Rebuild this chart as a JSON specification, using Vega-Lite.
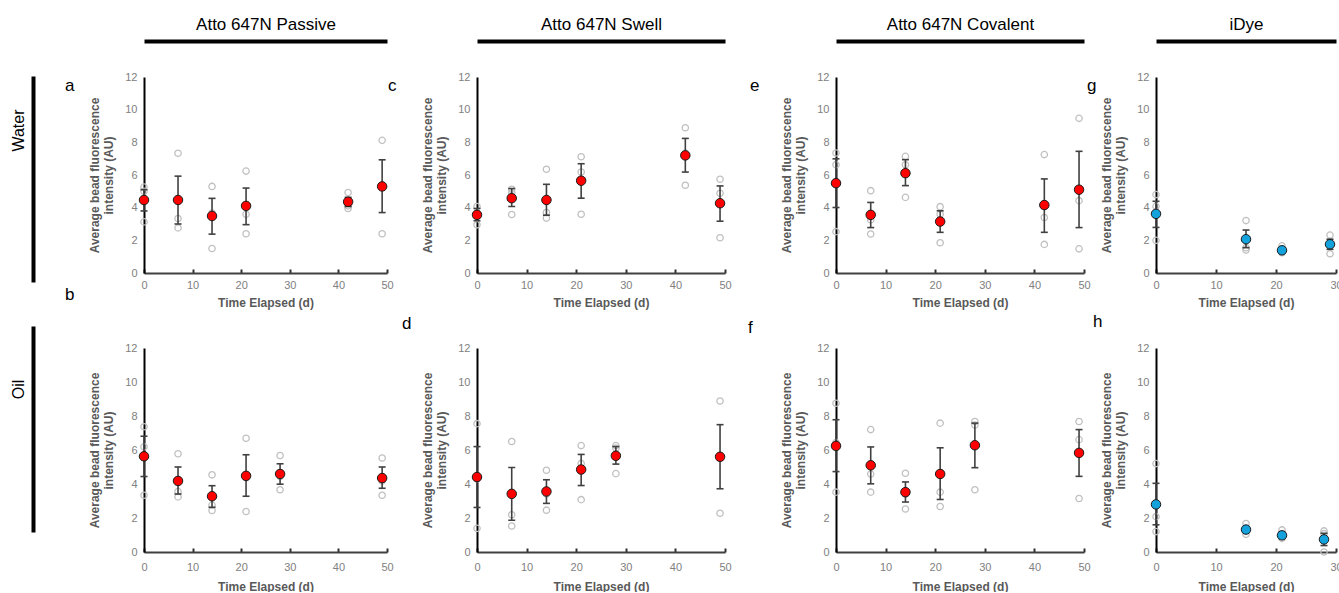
{
  "$schema": "https://vega.github.io/schema/vega-lite/v6.json",
  "padding": {"left": 10, "top": 15, "right": 0, "bottom": 0},
  "background": "white",
  "datasets": {
    "means": [
      {"p": "a", "day": 0, "mean": 4.47, "lo": 3.8, "hi": 5.1},
      {"p": "a", "day": 7, "mean": 4.47, "lo": 3.0, "hi": 5.93},
      {"p": "a", "day": 14, "mean": 3.49, "lo": 2.38, "hi": 4.57},
      {"p": "a", "day": 21, "mean": 4.11, "lo": 2.96, "hi": 5.2},
      {"p": "a", "day": 42, "mean": 4.36, "lo": 4.07, "hi": 4.63},
      {"p": "a", "day": 49, "mean": 5.3, "lo": 3.7, "hi": 6.93},
      {"p": "c", "day": 0, "mean": 3.56, "lo": 3.2, "hi": 3.95},
      {"p": "c", "day": 7, "mean": 4.58, "lo": 4.07, "hi": 5.17},
      {"p": "c", "day": 14, "mean": 4.47, "lo": 3.54, "hi": 5.43},
      {"p": "c", "day": 21, "mean": 5.65, "lo": 4.58, "hi": 6.69},
      {"p": "c", "day": 42, "mean": 7.2, "lo": 6.18, "hi": 8.24},
      {"p": "c", "day": 49, "mean": 4.27, "lo": 3.17, "hi": 5.33},
      {"p": "e", "day": 0, "mean": 5.5, "lo": 4.01, "hi": 6.99},
      {"p": "e", "day": 7, "mean": 3.56, "lo": 2.78, "hi": 4.32},
      {"p": "e", "day": 14, "mean": 6.11, "lo": 5.35, "hi": 6.94},
      {"p": "e", "day": 21, "mean": 3.15, "lo": 2.49, "hi": 3.81},
      {"p": "e", "day": 42, "mean": 4.16, "lo": 2.49, "hi": 5.76},
      {"p": "e", "day": 49, "mean": 5.1, "lo": 2.78, "hi": 7.45},
      {"p": "g", "day": 0, "mean": 3.62, "lo": 2.79, "hi": 4.39},
      {"p": "g", "day": 15, "mean": 2.07, "lo": 1.55, "hi": 2.63},
      {"p": "g", "day": 21, "mean": 1.39, "lo": 1.24, "hi": 1.55},
      {"p": "g", "day": 29, "mean": 1.76, "lo": 1.45, "hi": 2.07},
      {"p": "b", "day": 0, "mean": 5.63, "lo": 4.44, "hi": 6.81},
      {"p": "b", "day": 7, "mean": 4.18, "lo": 3.41, "hi": 5.0},
      {"p": "b", "day": 14, "mean": 3.28, "lo": 2.63, "hi": 3.9},
      {"p": "b", "day": 21, "mean": 4.48, "lo": 3.28, "hi": 5.72},
      {"p": "b", "day": 28, "mean": 4.59, "lo": 3.99, "hi": 5.19},
      {"p": "b", "day": 49, "mean": 4.35, "lo": 3.75, "hi": 5.0},
      {"p": "d", "day": 0, "mean": 4.41, "lo": 2.62, "hi": 6.2},
      {"p": "d", "day": 7, "mean": 3.42, "lo": 1.87, "hi": 4.97},
      {"p": "d", "day": 14, "mean": 3.56, "lo": 2.86, "hi": 4.25},
      {"p": "d", "day": 21, "mean": 4.85, "lo": 3.91, "hi": 5.74},
      {"p": "d", "day": 28, "mean": 5.66, "lo": 5.17, "hi": 6.2},
      {"p": "d", "day": 49, "mean": 5.6, "lo": 3.72, "hi": 7.49},
      {"p": "f", "day": 0, "mean": 6.24, "lo": 4.73, "hi": 7.78},
      {"p": "f", "day": 7, "mean": 5.1, "lo": 4.01, "hi": 6.18},
      {"p": "f", "day": 14, "mean": 3.52, "lo": 2.94, "hi": 4.12},
      {"p": "f", "day": 21, "mean": 4.59, "lo": 3.09, "hi": 6.13},
      {"p": "f", "day": 28, "mean": 6.28, "lo": 4.96, "hi": 7.58},
      {"p": "f", "day": 49, "mean": 5.83, "lo": 4.45, "hi": 7.2},
      {"p": "h", "day": 0, "mean": 2.8, "lo": 1.6, "hi": 4.04},
      {"p": "h", "day": 15, "mean": 1.32, "lo": 1.16, "hi": 1.48},
      {"p": "h", "day": 21, "mean": 0.98, "lo": 0.8, "hi": 1.18},
      {"p": "h", "day": 28, "mean": 0.74, "lo": 0.38, "hi": 1.1}
    ],
    "reps": [
      {"p": "a", "day": 0, "v": 5.26}, {"p": "a", "day": 0, "v": 5.0}, {"p": "a", "day": 0, "v": 3.13},
      {"p": "a", "day": 7, "v": 7.33}, {"p": "a", "day": 7, "v": 3.34}, {"p": "a", "day": 7, "v": 2.76},
      {"p": "a", "day": 14, "v": 5.3}, {"p": "a", "day": 14, "v": 3.67}, {"p": "a", "day": 14, "v": 1.5},
      {"p": "a", "day": 21, "v": 6.24}, {"p": "a", "day": 21, "v": 3.59}, {"p": "a", "day": 21, "v": 2.4},
      {"p": "a", "day": 42, "v": 4.93}, {"p": "a", "day": 42, "v": 4.11}, {"p": "a", "day": 42, "v": 3.95},
      {"p": "a", "day": 49, "v": 8.12}, {"p": "a", "day": 49, "v": 5.38}, {"p": "a", "day": 49, "v": 2.4},
      {"p": "c", "day": 0, "v": 4.07}, {"p": "c", "day": 0, "v": 3.66}, {"p": "c", "day": 0, "v": 2.95},
      {"p": "c", "day": 7, "v": 5.13}, {"p": "c", "day": 7, "v": 4.92}, {"p": "c", "day": 7, "v": 3.58},
      {"p": "c", "day": 14, "v": 6.35}, {"p": "c", "day": 14, "v": 3.7}, {"p": "c", "day": 14, "v": 3.36},
      {"p": "c", "day": 21, "v": 7.12}, {"p": "c", "day": 21, "v": 6.18}, {"p": "c", "day": 21, "v": 3.6},
      {"p": "c", "day": 42, "v": 8.89}, {"p": "c", "day": 42, "v": 7.34}, {"p": "c", "day": 42, "v": 5.37},
      {"p": "c", "day": 49, "v": 5.74}, {"p": "c", "day": 49, "v": 4.88}, {"p": "c", "day": 49, "v": 2.16},
      {"p": "e", "day": 0, "v": 7.35}, {"p": "e", "day": 0, "v": 6.63}, {"p": "e", "day": 0, "v": 2.53},
      {"p": "e", "day": 7, "v": 5.04}, {"p": "e", "day": 7, "v": 3.25}, {"p": "e", "day": 7, "v": 2.39},
      {"p": "e", "day": 14, "v": 7.14}, {"p": "e", "day": 14, "v": 6.63}, {"p": "e", "day": 14, "v": 4.63},
      {"p": "e", "day": 21, "v": 4.06}, {"p": "e", "day": 21, "v": 3.6}, {"p": "e", "day": 21, "v": 1.85},
      {"p": "e", "day": 42, "v": 7.25}, {"p": "e", "day": 42, "v": 3.4}, {"p": "e", "day": 42, "v": 1.75},
      {"p": "e", "day": 49, "v": 9.47}, {"p": "e", "day": 49, "v": 4.43}, {"p": "e", "day": 49, "v": 1.48},
      {"p": "g", "day": 0, "v": 4.8}, {"p": "g", "day": 0, "v": 4.08}, {"p": "g", "day": 0, "v": 2.0},
      {"p": "g", "day": 15, "v": 3.21}, {"p": "g", "day": 15, "v": 1.55}, {"p": "g", "day": 15, "v": 1.41},
      {"p": "g", "day": 21, "v": 1.66}, {"p": "g", "day": 21, "v": 1.35}, {"p": "g", "day": 21, "v": 1.24},
      {"p": "g", "day": 29, "v": 2.32}, {"p": "g", "day": 29, "v": 1.86}, {"p": "g", "day": 29, "v": 1.18},
      {"p": "b", "day": 0, "v": 7.37}, {"p": "b", "day": 0, "v": 6.19}, {"p": "b", "day": 0, "v": 3.34},
      {"p": "b", "day": 7, "v": 5.78}, {"p": "b", "day": 7, "v": 3.56}, {"p": "b", "day": 7, "v": 3.24},
      {"p": "b", "day": 14, "v": 4.54}, {"p": "b", "day": 14, "v": 2.76}, {"p": "b", "day": 14, "v": 2.44},
      {"p": "b", "day": 21, "v": 6.69}, {"p": "b", "day": 21, "v": 4.37}, {"p": "b", "day": 21, "v": 2.38},
      {"p": "b", "day": 28, "v": 5.68}, {"p": "b", "day": 28, "v": 4.44}, {"p": "b", "day": 28, "v": 3.66},
      {"p": "b", "day": 49, "v": 5.53}, {"p": "b", "day": 49, "v": 4.18}, {"p": "b", "day": 49, "v": 3.34},
      {"p": "d", "day": 0, "v": 7.55}, {"p": "d", "day": 0, "v": 4.29}, {"p": "d", "day": 0, "v": 1.39},
      {"p": "d", "day": 7, "v": 6.5}, {"p": "d", "day": 7, "v": 2.19}, {"p": "d", "day": 7, "v": 1.53},
      {"p": "d", "day": 14, "v": 4.81}, {"p": "d", "day": 14, "v": 3.41}, {"p": "d", "day": 14, "v": 2.46},
      {"p": "d", "day": 21, "v": 6.26}, {"p": "d", "day": 21, "v": 5.21}, {"p": "d", "day": 21, "v": 3.08},
      {"p": "d", "day": 28, "v": 6.26}, {"p": "d", "day": 28, "v": 6.11}, {"p": "d", "day": 28, "v": 4.61},
      {"p": "d", "day": 49, "v": 8.88}, {"p": "d", "day": 49, "v": 5.64}, {"p": "d", "day": 49, "v": 2.28},
      {"p": "f", "day": 0, "v": 8.75}, {"p": "f", "day": 0, "v": 6.44}, {"p": "f", "day": 0, "v": 3.52},
      {"p": "f", "day": 7, "v": 7.2}, {"p": "f", "day": 7, "v": 4.59}, {"p": "f", "day": 7, "v": 3.52},
      {"p": "f", "day": 14, "v": 4.63}, {"p": "f", "day": 14, "v": 3.4}, {"p": "f", "day": 14, "v": 2.53},
      {"p": "f", "day": 21, "v": 7.58}, {"p": "f", "day": 21, "v": 3.52}, {"p": "f", "day": 21, "v": 2.68},
      {"p": "f", "day": 28, "v": 7.68}, {"p": "f", "day": 28, "v": 7.47}, {"p": "f", "day": 28, "v": 3.66},
      {"p": "f", "day": 49, "v": 7.68}, {"p": "f", "day": 49, "v": 6.61}, {"p": "f", "day": 49, "v": 3.15},
      {"p": "h", "day": 0, "v": 5.2}, {"p": "h", "day": 0, "v": 2.08}, {"p": "h", "day": 0, "v": 1.2},
      {"p": "h", "day": 15, "v": 1.68}, {"p": "h", "day": 15, "v": 1.24}, {"p": "h", "day": 15, "v": 1.04},
      {"p": "h", "day": 21, "v": 1.3}, {"p": "h", "day": 21, "v": 0.94}, {"p": "h", "day": 21, "v": 0.8},
      {"p": "h", "day": 28, "v": 1.24}, {"p": "h", "day": 28, "v": 1.08}, {"p": "h", "day": 28, "v": 0.0}
    ]
  },
  "columns": 9,
  "spacing": {"row": 75, "column": 0},
  "bounds": "flush",
  "align": "each",
  "concat": [
    {"width": 1, "height": 196, "data": {"name": "means"}, "mark": {"type": "point", "opacity": 0},
     "encoding": {"y": {"datum": 0, "type": "quantitative", "scale": {"domain": [0, 1], "range": [205, -1]},
       "axis": {"title": "Water", "domain": true, "domainColor": "#000000", "domainWidth": 4, "ticks": false, "labels": false, "titleFontSize": 16, "titleFontWeight": "normal", "titleColor": "#000000", "titleAngle": 270, "titleAlign": "center", "titleBaseline": "middle", "titleX": -15, "titleY": 53}}}},
    {"width": 110, "height": 1, "data": {"name": "means"}, "mark": {"type": "point", "opacity": 0}},
    {"width": 243, "height": 196,
     "title": {"text": "a", "dx": -79, "dy": 84},
     "resolve": {"axis": {"x": "independent"}},
     "encoding": {"y": {"type": "quantitative", "scale": {"domain": [0, 12], "nice": false}, "axis": {"values": [0, 2, 4, 6, 8, 10, 12], "tickCount": 7, "labelOverlap": false, "title": ["Average bead fluorescence", "intensity (AU)"]}}},
     "layer": [
       {"data": {"name": "reps"}, "transform": [{"filter": "datum.p === 'a'"}],
        "mark": {"type": "point", "shape": "circle", "filled": false, "stroke": "#c0c0c0", "strokeWidth": 1.3, "size": 40, "opacity": 1},
        "encoding": {"x": {"field": "day", "type": "quantitative", "scale": {"domain": [0, 50]}, "axis": {"values": [0, 10, 20, 30, 40, 50], "title": "Time Elapsed (d)"}}, "y": {"field": "v"}}},
       {"data": {"name": "means"}, "transform": [{"filter": "datum.p === 'a'"}],
        "mark": {"type": "rule", "color": "#404040", "strokeWidth": 1.6},
        "encoding": {"x": {"field": "day", "type": "quantitative", "axis": null}, "y": {"field": "lo"}, "y2": {"field": "hi"}}},
       {"data": {"name": "means"}, "transform": [{"filter": "datum.p === 'a'"}],
        "mark": {"type": "tick", "orient": "horizontal", "color": "#404040", "size": 7, "thickness": 1.6, "opacity": 1},
        "encoding": {"x": {"field": "day", "type": "quantitative", "axis": null}, "y": {"field": "lo"}}},
       {"data": {"name": "means"}, "transform": [{"filter": "datum.p === 'a'"}],
        "mark": {"type": "tick", "orient": "horizontal", "color": "#404040", "size": 7, "thickness": 1.6, "opacity": 1},
        "encoding": {"x": {"field": "day", "type": "quantitative", "axis": null}, "y": {"field": "hi"}}},
       {"data": {"name": "means"}, "transform": [{"filter": "datum.p === 'a'"}],
        "mark": {"type": "point", "shape": "circle", "filled": true, "fill": "#ff0000", "stroke": "#1a1a1a", "strokeWidth": 1, "size": 90, "opacity": 1},
        "encoding": {"x": {"field": "day", "type": "quantitative", "axis": {"orient": "top", "title": "Atto 647N Passive"}}, "y": {"field": "mean"}}}
     ]},
    {"width": 90, "height": 1, "data": {"name": "means"}, "mark": {"type": "point", "opacity": 0}},
    {"width": 248, "height": 196,
     "title": {"text": "c", "dx": -89, "dy": 84},
     "resolve": {"axis": {"x": "independent"}},
     "encoding": {"y": {"type": "quantitative", "scale": {"domain": [0, 12], "nice": false}, "axis": {"values": [0, 2, 4, 6, 8, 10, 12], "tickCount": 7, "labelOverlap": false, "title": ["Average bead fluorescence", "intensity (AU)"]}}},
     "layer": [
       {"data": {"name": "reps"}, "transform": [{"filter": "datum.p === 'c'"}],
        "mark": {"type": "point", "shape": "circle", "filled": false, "stroke": "#c0c0c0", "strokeWidth": 1.3, "size": 40, "opacity": 1},
        "encoding": {"x": {"field": "day", "type": "quantitative", "scale": {"domain": [0, 50]}, "axis": {"values": [0, 10, 20, 30, 40, 50], "title": "Time Elapsed (d)"}}, "y": {"field": "v"}}},
       {"data": {"name": "means"}, "transform": [{"filter": "datum.p === 'c'"}],
        "mark": {"type": "rule", "color": "#404040", "strokeWidth": 1.6},
        "encoding": {"x": {"field": "day", "type": "quantitative", "axis": null}, "y": {"field": "lo"}, "y2": {"field": "hi"}}},
       {"data": {"name": "means"}, "transform": [{"filter": "datum.p === 'c'"}],
        "mark": {"type": "tick", "orient": "horizontal", "color": "#404040", "size": 7, "thickness": 1.6, "opacity": 1},
        "encoding": {"x": {"field": "day", "type": "quantitative", "axis": null}, "y": {"field": "lo"}}},
       {"data": {"name": "means"}, "transform": [{"filter": "datum.p === 'c'"}],
        "mark": {"type": "tick", "orient": "horizontal", "color": "#404040", "size": 7, "thickness": 1.6, "opacity": 1},
        "encoding": {"x": {"field": "day", "type": "quantitative", "axis": null}, "y": {"field": "hi"}}},
       {"data": {"name": "means"}, "transform": [{"filter": "datum.p === 'c'"}],
        "mark": {"type": "point", "shape": "circle", "filled": true, "fill": "#ff0000", "stroke": "#1a1a1a", "strokeWidth": 1, "size": 90, "opacity": 1},
        "encoding": {"x": {"field": "day", "type": "quantitative", "axis": {"orient": "top", "title": "Atto 647N Swell"}}, "y": {"field": "mean"}}}
     ]},
    {"width": 111, "height": 1, "data": {"name": "means"}, "mark": {"type": "point", "opacity": 0}},
    {"width": 248, "height": 196,
     "title": {"text": "e", "dx": -86, "dy": 84},
     "resolve": {"axis": {"x": "independent"}},
     "encoding": {"y": {"type": "quantitative", "scale": {"domain": [0, 12], "nice": false}, "axis": {"values": [0, 2, 4, 6, 8, 10, 12], "tickCount": 7, "labelOverlap": false, "title": ["Average bead fluorescence", "intensity (AU)"]}}},
     "layer": [
       {"data": {"name": "reps"}, "transform": [{"filter": "datum.p === 'e'"}],
        "mark": {"type": "point", "shape": "circle", "filled": false, "stroke": "#c0c0c0", "strokeWidth": 1.3, "size": 40, "opacity": 1},
        "encoding": {"x": {"field": "day", "type": "quantitative", "scale": {"domain": [0, 50]}, "axis": {"values": [0, 10, 20, 30, 40, 50], "title": "Time Elapsed (d)"}}, "y": {"field": "v"}}},
       {"data": {"name": "means"}, "transform": [{"filter": "datum.p === 'e'"}],
        "mark": {"type": "rule", "color": "#404040", "strokeWidth": 1.6},
        "encoding": {"x": {"field": "day", "type": "quantitative", "axis": null}, "y": {"field": "lo"}, "y2": {"field": "hi"}}},
       {"data": {"name": "means"}, "transform": [{"filter": "datum.p === 'e'"}],
        "mark": {"type": "tick", "orient": "horizontal", "color": "#404040", "size": 7, "thickness": 1.6, "opacity": 1},
        "encoding": {"x": {"field": "day", "type": "quantitative", "axis": null}, "y": {"field": "lo"}}},
       {"data": {"name": "means"}, "transform": [{"filter": "datum.p === 'e'"}],
        "mark": {"type": "tick", "orient": "horizontal", "color": "#404040", "size": 7, "thickness": 1.6, "opacity": 1},
        "encoding": {"x": {"field": "day", "type": "quantitative", "axis": null}, "y": {"field": "hi"}}},
       {"data": {"name": "means"}, "transform": [{"filter": "datum.p === 'e'"}],
        "mark": {"type": "point", "shape": "circle", "filled": true, "fill": "#ff0000", "stroke": "#1a1a1a", "strokeWidth": 1, "size": 90, "opacity": 1},
        "encoding": {"x": {"field": "day", "type": "quantitative", "axis": {"orient": "top", "title": "Atto 647N Covalent"}}, "y": {"field": "mean"}}}
     ]},
    {"width": 72, "height": 1, "data": {"name": "means"}, "mark": {"type": "point", "opacity": 0}},
    {"width": 180, "height": 196,
     "title": {"text": "g", "dx": -69, "dy": 84},
     "resolve": {"axis": {"x": "independent"}},
     "encoding": {"y": {"type": "quantitative", "scale": {"domain": [0, 12], "nice": false}, "axis": {"values": [0, 2, 4, 6, 8, 10, 12], "tickCount": 7, "labelOverlap": false, "title": ["Average bead fluorescence", "intensity (AU)"]}}},
     "layer": [
       {"data": {"name": "reps"}, "transform": [{"filter": "datum.p === 'g'"}],
        "mark": {"type": "point", "shape": "circle", "filled": false, "stroke": "#c0c0c0", "strokeWidth": 1.3, "size": 40, "opacity": 1},
        "encoding": {"x": {"field": "day", "type": "quantitative", "scale": {"domain": [0, 30]}, "axis": {"values": [0, 10, 20, 30], "title": "Time Elapsed (d)"}}, "y": {"field": "v"}}},
       {"data": {"name": "means"}, "transform": [{"filter": "datum.p === 'g'"}],
        "mark": {"type": "rule", "color": "#404040", "strokeWidth": 1.6},
        "encoding": {"x": {"field": "day", "type": "quantitative", "axis": null}, "y": {"field": "lo"}, "y2": {"field": "hi"}}},
       {"data": {"name": "means"}, "transform": [{"filter": "datum.p === 'g'"}],
        "mark": {"type": "tick", "orient": "horizontal", "color": "#404040", "size": 7, "thickness": 1.6, "opacity": 1},
        "encoding": {"x": {"field": "day", "type": "quantitative", "axis": null}, "y": {"field": "lo"}}},
       {"data": {"name": "means"}, "transform": [{"filter": "datum.p === 'g'"}],
        "mark": {"type": "tick", "orient": "horizontal", "color": "#404040", "size": 7, "thickness": 1.6, "opacity": 1},
        "encoding": {"x": {"field": "day", "type": "quantitative", "axis": null}, "y": {"field": "hi"}}},
       {"data": {"name": "means"}, "transform": [{"filter": "datum.p === 'g'"}],
        "mark": {"type": "point", "shape": "circle", "filled": true, "fill": "#14a2dd", "stroke": "#1a1a1a", "strokeWidth": 1, "size": 90, "opacity": 1},
        "encoding": {"x": {"field": "day", "type": "quantitative", "axis": {"orient": "top", "title": "iDye"}}, "y": {"field": "mean"}}}
     ]},
    {"width": 1, "height": 204, "data": {"name": "means"}, "mark": {"type": "point", "opacity": 0},
     "encoding": {"y": {"datum": 0, "type": "quantitative", "scale": {"domain": [0, 1], "range": [184, -22]},
       "axis": {"title": "Oil", "domain": true, "domainColor": "#000000", "domainWidth": 4, "ticks": false, "labels": false, "titleFontSize": 16, "titleFontWeight": "normal", "titleColor": "#000000", "titleAngle": 270, "titleAlign": "center", "titleBaseline": "middle", "titleX": -15, "titleY": 41}}}},
    {"width": 110, "height": 1, "data": {"name": "means"}, "mark": {"type": "point", "opacity": 0}},
    {"width": 243, "height": 204,
     "title": {"text": "b", "dx": -79, "dy": -34},
     "encoding": {"x": {"type": "quantitative", "scale": {"domain": [0, 50]}, "axis": {"values": [0, 10, 20, 30, 40, 50], "labelPadding": 13, "titlePadding": 9, "title": "Time Elapsed (d)"}},
                  "y": {"type": "quantitative", "scale": {"domain": [0, 12], "nice": false}, "axis": {"values": [0, 2, 4, 6, 8, 10, 12], "tickCount": 7, "labelOverlap": false, "title": ["Average bead fluorescence", "intensity (AU)"]}}},
     "layer": [
       {"data": {"name": "reps"}, "transform": [{"filter": "datum.p === 'b'"}],
        "mark": {"type": "point", "shape": "circle", "filled": false, "stroke": "#c0c0c0", "strokeWidth": 1.3, "size": 40, "opacity": 1},
        "encoding": {"x": {"field": "day"}, "y": {"field": "v"}}},
       {"data": {"name": "means"}, "transform": [{"filter": "datum.p === 'b'"}],
        "mark": {"type": "rule", "color": "#404040", "strokeWidth": 1.6},
        "encoding": {"x": {"field": "day"}, "y": {"field": "lo"}, "y2": {"field": "hi"}}},
       {"data": {"name": "means"}, "transform": [{"filter": "datum.p === 'b'"}],
        "mark": {"type": "tick", "orient": "horizontal", "color": "#404040", "size": 7, "thickness": 1.6, "opacity": 1},
        "encoding": {"x": {"field": "day"}, "y": {"field": "lo"}}},
       {"data": {"name": "means"}, "transform": [{"filter": "datum.p === 'b'"}],
        "mark": {"type": "tick", "orient": "horizontal", "color": "#404040", "size": 7, "thickness": 1.6, "opacity": 1},
        "encoding": {"x": {"field": "day"}, "y": {"field": "hi"}}},
       {"data": {"name": "means"}, "transform": [{"filter": "datum.p === 'b'"}],
        "mark": {"type": "point", "shape": "circle", "filled": true, "fill": "#ff0000", "stroke": "#1a1a1a", "strokeWidth": 1, "size": 90, "opacity": 1},
        "encoding": {"x": {"field": "day"}, "y": {"field": "mean"}}}
     ]},
    {"width": 90, "height": 1, "data": {"name": "means"}, "mark": {"type": "point", "opacity": 0}},
    {"width": 248, "height": 204,
     "title": {"text": "d", "dx": -75, "dy": -5},
     "encoding": {"x": {"type": "quantitative", "scale": {"domain": [0, 50]}, "axis": {"values": [0, 10, 20, 30, 40, 50], "labelPadding": 13, "titlePadding": 9, "title": "Time Elapsed (d)"}},
                  "y": {"type": "quantitative", "scale": {"domain": [0, 12], "nice": false}, "axis": {"values": [0, 2, 4, 6, 8, 10, 12], "tickCount": 7, "labelOverlap": false, "title": ["Average bead fluorescence", "intensity (AU)"]}}},
     "layer": [
       {"data": {"name": "reps"}, "transform": [{"filter": "datum.p === 'd'"}],
        "mark": {"type": "point", "shape": "circle", "filled": false, "stroke": "#c0c0c0", "strokeWidth": 1.3, "size": 40, "opacity": 1},
        "encoding": {"x": {"field": "day"}, "y": {"field": "v"}}},
       {"data": {"name": "means"}, "transform": [{"filter": "datum.p === 'd'"}],
        "mark": {"type": "rule", "color": "#404040", "strokeWidth": 1.6},
        "encoding": {"x": {"field": "day"}, "y": {"field": "lo"}, "y2": {"field": "hi"}}},
       {"data": {"name": "means"}, "transform": [{"filter": "datum.p === 'd'"}],
        "mark": {"type": "tick", "orient": "horizontal", "color": "#404040", "size": 7, "thickness": 1.6, "opacity": 1},
        "encoding": {"x": {"field": "day"}, "y": {"field": "lo"}}},
       {"data": {"name": "means"}, "transform": [{"filter": "datum.p === 'd'"}],
        "mark": {"type": "tick", "orient": "horizontal", "color": "#404040", "size": 7, "thickness": 1.6, "opacity": 1},
        "encoding": {"x": {"field": "day"}, "y": {"field": "hi"}}},
       {"data": {"name": "means"}, "transform": [{"filter": "datum.p === 'd'"}],
        "mark": {"type": "point", "shape": "circle", "filled": true, "fill": "#ff0000", "stroke": "#1a1a1a", "strokeWidth": 1, "size": 90, "opacity": 1},
        "encoding": {"x": {"field": "day"}, "y": {"field": "mean"}}}
     ]},
    {"width": 111, "height": 1, "data": {"name": "means"}, "mark": {"type": "point", "opacity": 0}},
    {"width": 248, "height": 204,
     "title": {"text": "f", "dx": -88, "dy": -1},
     "encoding": {"x": {"type": "quantitative", "scale": {"domain": [0, 50]}, "axis": {"values": [0, 10, 20, 30, 40, 50], "labelPadding": 13, "titlePadding": 9, "title": "Time Elapsed (d)"}},
                  "y": {"type": "quantitative", "scale": {"domain": [0, 12], "nice": false}, "axis": {"values": [0, 2, 4, 6, 8, 10, 12], "tickCount": 7, "labelOverlap": false, "title": ["Average bead fluorescence", "intensity (AU)"]}}},
     "layer": [
       {"data": {"name": "reps"}, "transform": [{"filter": "datum.p === 'f'"}],
        "mark": {"type": "point", "shape": "circle", "filled": false, "stroke": "#c0c0c0", "strokeWidth": 1.3, "size": 40, "opacity": 1},
        "encoding": {"x": {"field": "day"}, "y": {"field": "v"}}},
       {"data": {"name": "means"}, "transform": [{"filter": "datum.p === 'f'"}],
        "mark": {"type": "rule", "color": "#404040", "strokeWidth": 1.6},
        "encoding": {"x": {"field": "day"}, "y": {"field": "lo"}, "y2": {"field": "hi"}}},
       {"data": {"name": "means"}, "transform": [{"filter": "datum.p === 'f'"}],
        "mark": {"type": "tick", "orient": "horizontal", "color": "#404040", "size": 7, "thickness": 1.6, "opacity": 1},
        "encoding": {"x": {"field": "day"}, "y": {"field": "lo"}}},
       {"data": {"name": "means"}, "transform": [{"filter": "datum.p === 'f'"}],
        "mark": {"type": "tick", "orient": "horizontal", "color": "#404040", "size": 7, "thickness": 1.6, "opacity": 1},
        "encoding": {"x": {"field": "day"}, "y": {"field": "hi"}}},
       {"data": {"name": "means"}, "transform": [{"filter": "datum.p === 'f'"}],
        "mark": {"type": "point", "shape": "circle", "filled": true, "fill": "#ff0000", "stroke": "#1a1a1a", "strokeWidth": 1, "size": 90, "opacity": 1},
        "encoding": {"x": {"field": "day"}, "y": {"field": "mean"}}}
     ]},
    {"width": 72, "height": 1, "data": {"name": "means"}, "mark": {"type": "point", "opacity": 0}},
    {"width": 180, "height": 204,
     "title": {"text": "h", "dx": -63, "dy": -7},
     "encoding": {"x": {"type": "quantitative", "scale": {"domain": [0, 30]}, "axis": {"values": [0, 10, 20, 30], "labelPadding": 13, "titlePadding": 9, "title": "Time Elapsed (d)"}},
                  "y": {"type": "quantitative", "scale": {"domain": [0, 12], "nice": false}, "axis": {"values": [0, 2, 4, 6, 8, 10, 12], "tickCount": 7, "labelOverlap": false, "title": ["Average bead fluorescence", "intensity (AU)"]}}},
     "layer": [
       {"data": {"name": "reps"}, "transform": [{"filter": "datum.p === 'h'"}],
        "mark": {"type": "point", "shape": "circle", "filled": false, "stroke": "#c0c0c0", "strokeWidth": 1.3, "size": 40, "opacity": 1},
        "encoding": {"x": {"field": "day"}, "y": {"field": "v"}}},
       {"data": {"name": "means"}, "transform": [{"filter": "datum.p === 'h'"}],
        "mark": {"type": "rule", "color": "#404040", "strokeWidth": 1.6},
        "encoding": {"x": {"field": "day"}, "y": {"field": "lo"}, "y2": {"field": "hi"}}},
       {"data": {"name": "means"}, "transform": [{"filter": "datum.p === 'h'"}],
        "mark": {"type": "tick", "orient": "horizontal", "color": "#404040", "size": 7, "thickness": 1.6, "opacity": 1},
        "encoding": {"x": {"field": "day"}, "y": {"field": "lo"}}},
       {"data": {"name": "means"}, "transform": [{"filter": "datum.p === 'h'"}],
        "mark": {"type": "tick", "orient": "horizontal", "color": "#404040", "size": 7, "thickness": 1.6, "opacity": 1},
        "encoding": {"x": {"field": "day"}, "y": {"field": "hi"}}},
       {"data": {"name": "means"}, "transform": [{"filter": "datum.p === 'h'"}],
        "mark": {"type": "point", "shape": "circle", "filled": true, "fill": "#14a2dd", "stroke": "#1a1a1a", "strokeWidth": 1, "size": 90, "opacity": 1},
        "encoding": {"x": {"field": "day"}, "y": {"field": "mean"}}}
     ]}
  ],
  "config": {
    "view": {"stroke": null},
    "font": "Liberation Sans",
    "axis": {"grid": false, "labelOverlap": false, "labelFont": "Liberation Sans", "labelFontSize": 11, "labelColor": "#808080", "titleFont": "Liberation Sans", "titleFontSize": 12, "titleFontWeight": "bold", "titleColor": "#595959"},
    "axisBottom": {"domainColor": "#404040", "domainWidth": 2, "tickColor": "#303030", "tickWidth": 2, "tickSize": -4, "labelPadding": 10, "titlePadding": 7, "labelFlush": false},
    "axisLeft": {"domainColor": "#000000", "domainWidth": 2, "ticks": false, "labelPadding": 7, "titlePadding": 9, "titleLineHeight": 14},
    "axisTop": {"domainColor": "#000000", "domainWidth": 4, "ticks": false, "labels": false, "titleFontSize": 17, "titleFontWeight": "normal", "titleColor": "#000000", "titlePadding": 8, "offset": 36},
    "title": {"font": "Liberation Sans", "fontSize": 17, "fontWeight": "normal", "color": "#000000", "anchor": "start", "frame": "group", "offset": 0}
  }
}
